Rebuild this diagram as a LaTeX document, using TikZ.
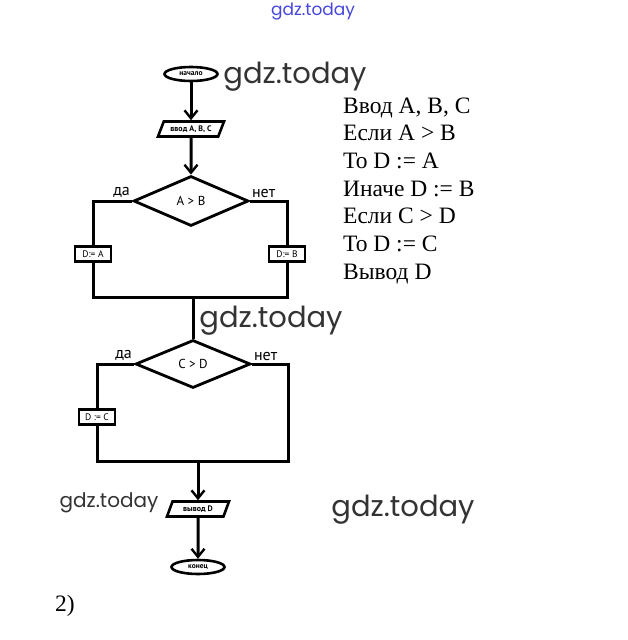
\documentclass[tikz,border=0pt]{standalone}
\usepackage{fontspec}
\setmainfont{Liberation Serif}
\newfontfamily\flowfont{PT Sans}
\newfontfamily\markfont{Poppins}
\usetikzlibrary{positioning,arrows.meta,shapes.geometric}
\definecolor{markblue}{RGB}{70,70,220}
\tikzset{
  line/.style={line width=3pt},
  arrow/.style={line width=3pt, -{Straight Barb[length=8pt,width=13pt,line width=2.4pt]}},
  term/.style={ellipse, draw, line width=2.6pt, minimum width=53pt, minimum height=14pt, inner sep=0pt,
    font=\flowfont\bfseries\fontsize{7.5}{7.5}\selectfont},
  io/.style={trapezium, trapezium left angle=50, trapezium right angle=130, trapezium stretches body,
    draw, line width=2.6pt, minimum width=66pt, minimum height=15pt, inner sep=0pt,
    font=\flowfont\bfseries\fontsize{8}{8}\selectfont},
  cond/.style={diamond, draw, line width=2.8pt, minimum width=115pt, minimum height=50pt, inner sep=0pt,
    font=\flowfont\fontsize{13}{13}\selectfont},
  act/.style={rectangle, draw, line width=2.6pt, minimum width=36pt, minimum height=15pt, inner sep=1pt,
    fill=white, font=\flowfont\fontsize{9.5}{9.5}\selectfont},
  branch/.style={font=\flowfont\fontsize{16}{16}\selectfont, inner sep=0pt},
  wmark/.style={font=\markfont\fontsize{#1}{#1}\selectfont, text=black!80, inner sep=0pt},
  wmark/.default=29
}
\begin{document}
\begin{tikzpicture}[x=1pt,y=-1pt]
\useasboundingbox (0,0) rectangle (627,640);

% first block
\node[term] (start) at (191,74) {начало};
\node[io] (input) at (191,129) {ввод A, B, C};
\node[cond] (cond1) at (191,201) {A > B};
\node[act] (yesA) at (93,254) {D:= A};
\node[act] (noB) at (287,254) {D:= B};
\coordinate (join1) at (193,297);
\draw[arrow] (start) -- (input);
\draw[arrow] (input) -- (cond1);
\draw[line] (cond1.west) -| (yesA.north);
\draw[line] (cond1.east) -| (noB.north);
\draw[line] (yesA.south) |- (join1) -| (noB.south);
\node[branch, above left=3pt and 2pt of cond1.west] (yes1) {да};
\node[branch, above right=3pt and 2pt of cond1.east] (no1) {нет};

% second block
\node[cond, minimum height=48pt] (cond2) at (193,364) {C > D};
\node[act] (yesC) at (97,417) {D := C};
\coordinate (corner2) at (288,461);
\coordinate (join2) at (198,461);
\draw[line] (join1) -- (cond2.north);
\draw[line] (cond2.west) -| (yesC.north);
\draw[line] (yesC.south) |- (corner2) |- (cond2.east);
\node[branch, above left=3pt and 2pt of cond2.west] (yes2) {да};
\node[branch, above right=3pt and 2pt of cond2.east] (no2) {нет};

% output
\node[io, minimum width=62pt] (output) at (198,509) {вывод D};
\node[term] (stop) at (198,567) {конец};
\draw[arrow] (join2) -- (output);
\draw[arrow] (output) -- (stop);

% algorithm text
\foreach \txt [count=\i from 0] in {{Ввод A, B, C}, {Если A > B}, {То D := A}, {Иначе D := B},
    {Если C > D}, {То D := C}, {Вывод D}}
  \node[anchor=base west, inner sep=0pt, font=\fontsize{23.5}{23.5}\selectfont] (algo\i) at (343,{113+27.7*\i}) {\txt};
\node[anchor=base west, inner sep=0pt, font=\fontsize{23.5}{23.5}\selectfont] (task) at (55,611) {2)};

% watermarks
\node[wmark] (mark1) at (295,77) {gdz.today};
\node[wmark] (mark2) at (271,321) {gdz.today};
\node[wmark] (mark3) at (403,510) {gdz.today};
\node[wmark=20] (mark4) at (109,503) {gdz.today};
\node[wmark=17, text=markblue] (mark5) at (313,12) {gdz.today};
\end{tikzpicture}
\end{document}
